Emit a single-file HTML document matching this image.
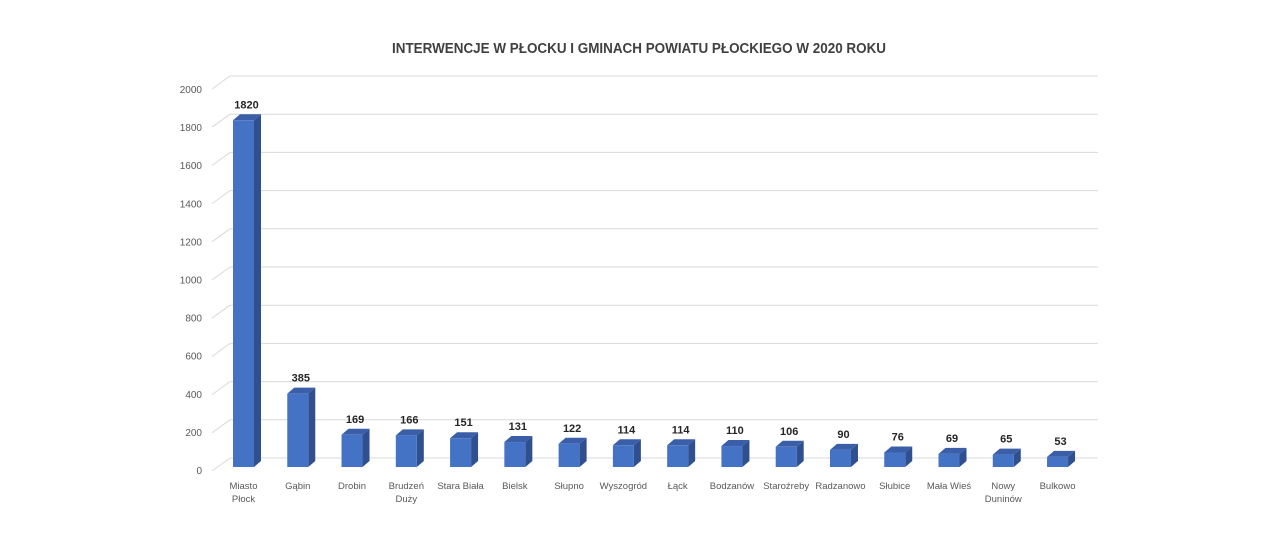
<!DOCTYPE html>
<html><head><meta charset="utf-8"><style>
html,body{margin:0;padding:0;background:#fff;}
svg{display:block;font-family:"Liberation Sans","DejaVu Sans",sans-serif;}
</style></head><body>
<svg id="c" width="1280" height="540" xmlns="http://www.w3.org/2000/svg">
<text x="639" y="53" text-anchor="middle" font-size="14.5" font-weight="bold" fill="#404040" textLength="494" lengthAdjust="spacingAndGlyphs">INTERWENCJE W PŁOCKU I GMINACH POWIATU PŁOCKIEGO W 2020 ROKU</text>
</svg>
<script>
var s=document.getElementById('c'),NS='http://www.w3.org/2000/svg',h='';
for(var k=0;k<=10;k++){
  var yb=458-k*38.2, yf=470-k*38.1;
  h+='<line x1="230" y1="'+yb+'" x2="1098" y2="'+yb+'" stroke="#d9d9d9" stroke-width="1"/>';
  h+='<line x1="212" y1="'+(yb+13)+'" x2="230" y2="'+yb+'" stroke="#d9d9d9" stroke-width="1"/>';
  h+='<text x="202" y="'+(yf+4)+'" text-anchor="end" font-size="10" fill="#595959">'+(k*200)+'</text>';
}
var d=[1820,385,169,166,151,131,122,114,114,110,106,90,76,69,65,53];
var L=[["Miasto","Płock"],["Gąbin"],["Drobin"],["Brudzeń","Duży"],["Stara Biała"],["Bielsk"],["Słupno"],["Wyszogród"],["Łąck"],["Bodzanów"],["Staroźreby"],["Radzanowo"],["Słubice"],["Mała Wieś"],["Nowy","Duninów"],["Bulkowo"]];
for(var i=0;i<d.length;i++){
  var x=233+i*54.27,w=21,dx=7,dy=6,b=467,t=b-d[i]*0.1905;
  h+='<polygon points="'+(x+w)+','+b+' '+(x+w+dx)+','+(b-dy)+' '+(x+w+dx)+','+(t-dy)+' '+(x+w)+','+t+'" fill="#2f4f8f"/>';
  h+='<polygon points="'+x+','+t+' '+(x+dx)+','+(t-dy)+' '+(x+w+dx)+','+(t-dy)+' '+(x+w)+','+t+'" fill="#3a5fa8"/>';
  h+='<rect x="'+x+'" y="'+t+'" width="'+w+'" height="'+(b-t)+'" fill="#4472c4"/>';
  var cx=x+w/2+3;
  h+='<text x="'+cx+'" y="'+(t-12)+'" text-anchor="middle" font-size="11" font-weight="bold" fill="#262626">'+d[i]+'</text>';
  for(var j=0;j<L[i].length;j++)
    h+='<text x="'+(x+w/2)+'" y="'+(489+j*13)+'" text-anchor="middle" font-size="9.5" fill="#595959">'+L[i][j]+'</text>';
}
s.insertAdjacentHTML('beforeend',h);
</script>
</body></html>
